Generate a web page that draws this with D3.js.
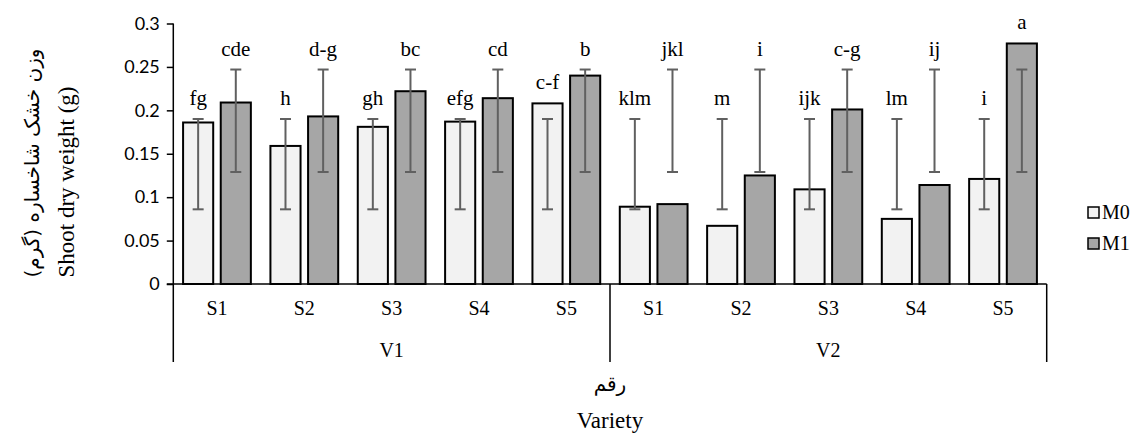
<!DOCTYPE html>
<html>
<head>
<meta charset="utf-8">
<script src="https://cdn.jsdelivr.net/npm/d3@7/dist/d3.min.js"></script>
<style>
  body { margin: 0; background: #fff; }
  svg { display: block; }
  .serif { font-family: "Liberation Serif", "Times New Roman", serif; fill: #000; }
  .fa { font-family: "DejaVu Sans", sans-serif; fill: #000; }
</style>
</head>
<body>
<div id="chart"></div>
<script>
// data
var varieties = ["V1", "V2"];
var salinity  = ["S1", "S2", "S3", "S4", "S5"];
var series    = ["M0", "M1"];

var m0Values = [0.186, 0.159, 0.181, 0.187, 0.208, 0.089, 0.067, 0.109, 0.075, 0.121];
var m1Values = [0.209, 0.193, 0.222, 0.214, 0.240, 0.092, 0.125, 0.201, 0.114, 0.277];

// error bars (as drawn in the original, same range for every bar of a series)
var m0ErrLow  = [0.086, 0.086, 0.086, 0.086, 0.086, 0.086, 0.086, 0.086, 0.086, 0.086];
var m0ErrHigh = [0.190, 0.190, 0.190, 0.190, 0.190, 0.190, 0.190, 0.190, 0.190, 0.190];
var m1ErrLow  = [0.129, 0.129, 0.129, 0.129, 0.129, 0.129, 0.129, 0.129, 0.129, 0.129];
var m1ErrHigh = [0.247, 0.247, 0.247, 0.247, 0.247, 0.247, 0.247, 0.247, 0.247, 0.247];

var m0Letters = ["fg", "h", "gh", "efg", "c-f", "klm", "m", "ijk", "lm", "i"];
var m1Letters = ["cde", "d-g", "bc", "cd", "b", "jkl", "i", "c-g", "ij", "a"];

var yTicks = [0, 0.05, 0.1, 0.15, 0.2, 0.25, 0.3];

var W = 1140, H = 434;
var plotLeft = 173.3, plotRight = 1046.7, plotTop = 23.5, plotBottom = 284;
var catLineEnd = 362;

var fills = { M0: "#f2f2f2", M1: "#a6a6a6" };

var svg = d3.select("#chart").append("svg")
  .attr("width", W)
  .attr("height", H);

// build rows
var rows = [];
varieties.forEach(function(v, vi) {
  salinity.forEach(function(s, si) {
    var i = vi * salinity.length + si;
    rows.push({
      key: v + "-" + s, variety: v, salt: s,
      M0: { value: m0Values[i], lo: m0ErrLow[i], hi: m0ErrHigh[i], letter: m0Letters[i] },
      M1: { value: m1Values[i], lo: m1ErrLow[i], hi: m1ErrHigh[i], letter: m1Letters[i] }
    });
  });
});

var x0 = d3.scaleBand().domain(rows.map(function(d){ return d.key; })).range([plotLeft, plotRight]);
var x1 = d3.scaleBand().domain(series).range([0, x0.bandwidth()]).paddingInner(0.2).paddingOuter(0.26);
var xV = d3.scaleBand().domain(varieties).range([plotLeft, plotRight]);
var y  = d3.scaleLinear().domain([0, 0.3]).range([plotBottom, plotTop]);

// y axis
var yAxis = svg.append("g")
  .attr("transform", "translate(" + plotLeft + ",0)")
  .call(d3.axisLeft(y).tickValues(yTicks).tickSize(6.5).tickPadding(7)
        .tickFormat(function(d){ return String(+d.toFixed(2)); }));
yAxis.select(".domain").remove();
yAxis.selectAll(".tick line").attr("stroke", "#000").attr("stroke-width", 1.5);
yAxis.selectAll(".tick text")
  .attr("font-family", "Lato, 'Open Sans', sans-serif")
  .attr("font-size", 18)
  .attr("fill", "#000");

svg.append("line")
  .attr("x1", plotLeft).attr("x2", plotLeft)
  .attr("y1", y(0.3)).attr("y2", catLineEnd)
  .attr("stroke", "#000").attr("stroke-width", 1.5);

// bars
var groups = svg.append("g").selectAll("g")
  .data(rows).enter().append("g")
  .attr("transform", function(d){ return "translate(" + x0(d.key) + ",0)"; });

var pairs = function(d){ return series.map(function(k){ return { k: k, v: d[k] }; }); };

groups.selectAll("rect")
  .data(pairs)
  .enter().append("rect")
  .attr("x", function(d){ return x1(d.k); })
  .attr("width", x1.bandwidth())
  .attr("y", function(d){ return y(d.v.value); })
  .attr("height", function(d){ return y(0) - y(d.v.value); })
  .attr("fill", function(d){ return fills[d.k]; })
  .attr("stroke", "#000")
  .attr("stroke-width", 2);

// error bars
var errs = groups.selectAll("g.err")
  .data(pairs)
  .enter().append("g").attr("class", "err")
  .attr("stroke", "#606060").attr("stroke-width", 2);
errs.append("line")
  .attr("x1", function(d){ return x1(d.k) + x1.bandwidth() / 2; })
  .attr("x2", function(d){ return x1(d.k) + x1.bandwidth() / 2; })
  .attr("y1", function(d){ return y(d.v.lo); })
  .attr("y2", function(d){ return y(d.v.hi); });
["lo", "hi"].forEach(function(end) {
  errs.append("line")
    .attr("x1", function(d){ return x1(d.k) + x1.bandwidth() / 2 - 5.5; })
    .attr("x2", function(d){ return x1(d.k) + x1.bandwidth() / 2 + 5.5; })
    .attr("y1", function(d){ return y(d.v[end]); })
    .attr("y2", function(d){ return y(d.v[end]); });
});

// letters
groups.selectAll("text")
  .data(pairs)
  .enter().append("text")
  .attr("class", "serif")
  .attr("font-size", 21)
  .attr("text-anchor", "middle")
  .attr("x", function(d){ return x1(d.k) + x1.bandwidth() / 2; })
  .attr("y", function(d){ return Math.min(y(d.v.value), y(d.v.hi)) - 14; })
  .text(function(d){ return d.v.letter; });

// category axis
svg.append("line")
  .attr("x1", plotLeft - 6.5).attr("x2", plotRight)
  .attr("y1", y(0)).attr("y2", y(0))
  .attr("stroke", "#000").attr("stroke-width", 1.5);

svg.append("g").selectAll("line")
  .data(varieties).enter().append("line")
  .attr("x1", function(d){ return xV(d) + xV.bandwidth(); })
  .attr("x2", function(d){ return xV(d) + xV.bandwidth(); })
  .attr("y1", y(0)).attr("y2", catLineEnd)
  .attr("stroke", "#000").attr("stroke-width", 1.5);

svg.append("g").selectAll("text")
  .data(rows).enter().append("text")
  .attr("class", "serif")
  .attr("font-size", 20)
  .attr("text-anchor", "middle")
  .attr("x", function(d){ return x0(d.key) + x0.bandwidth() / 2; })
  .attr("y", 315)
  .text(function(d){ return d.salt; });

svg.append("g").selectAll("text")
  .data(varieties).enter().append("text")
  .attr("class", "serif")
  .attr("font-size", 20)
  .attr("text-anchor", "middle")
  .attr("x", function(d){ return xV(d) + xV.bandwidth() / 2; })
  .attr("y", 357)
  .text(function(d){ return d; });

// axis titles
var midX = (plotLeft + plotRight) / 2;
svg.append("text").attr("class", "fa")
  .attr("font-size", 20).attr("text-anchor", "middle")
  .attr("x", midX).attr("y", 391)
  .text("رقم");
svg.append("text").attr("class", "serif")
  .attr("font-size", 23).attr("text-anchor", "middle")
  .attr("x", midX).attr("y", 428)
  .text("Variety");

svg.append("text").attr("class", "serif")
  .attr("font-size", 23).attr("text-anchor", "middle")
  .attr("transform", "translate(74,182) rotate(-90)")
  .text("Shoot dry weight (g)");
svg.append("text").attr("class", "fa")
  .attr("font-size", 20).attr("text-anchor", "middle")
  .attr("transform", "translate(39,163) rotate(-90)")
  .text("وزن خشک شاخساره (گرم)");

// legend
var legend = svg.append("g").selectAll("g")
  .data(series).enter().append("g")
  .attr("transform", function(d, i){ return "translate(1088," + (207 + i * 31) + ")"; });
legend.append("rect")
  .attr("width", 11).attr("height", 11)
  .attr("fill", function(d){ return fills[d]; })
  .attr("stroke", "#000").attr("stroke-width", 1.5);
legend.append("text")
  .attr("class", "serif")
  .attr("font-size", 20)
  .attr("x", 14).attr("y", 12)
  .text(function(d){ return d; });
</script>
</body>
</html>
